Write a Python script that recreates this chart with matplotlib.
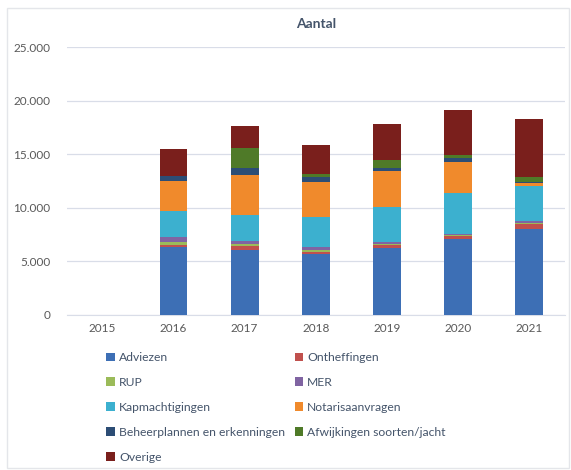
import numpy as np
import matplotlib
matplotlib.use('Agg')
import matplotlib.pyplot as plt
from matplotlib.patches import Rectangle

plt.rcParams['font.family'] = ['Lato', 'DejaVu Sans']

# data (aantal per jaar)
jaren = ['2015', '2016', '2017', '2018', '2019', '2020', '2021']
adviezen = [0, 6300, 6050, 5650, 6200, 7050, 8000]
ontheffingen = [0, 200, 350, 250, 300, 300, 450]
rup = [0, 300, 200, 150, 100, 100, 150]
mer = [0, 450, 300, 250, 200, 100, 200]
kapmachtigingen = [0, 2400, 2400, 2800, 3300, 3800, 3250]
notarisaanvragen = [0, 2850, 3800, 3300, 3350, 2950, 250]
beheerplannen = [0, 450, 650, 450, 300, 300, 100]
afwijkingen = [0, 50, 1850, 280, 700, 350, 450]
overige = [0, 2500, 2000, 2750, 3400, 4200, 5450]

reeksen = [
    ('Adviezen', adviezen, '#3d6fb5'),
    ('Ontheffingen', ontheffingen, '#c0504d'),
    ('RUP', rup, '#9bbb59'),
    ('MER', mer, '#8064a2'),
    ('Kapmachtigingen', kapmachtigingen, '#3cb0cf'),
    ('Notarisaanvragen', notarisaanvragen, '#f08a2c'),
    ('Beheerplannen en erkenningen', beheerplannen, '#2c4d75'),
    ('Afwijkingen soorten/jacht', afwijkingen, '#4f7a28'),
    ('Overige', overige, '#7a1f1c'),
]

tekst = '#595959'
fig = plt.figure(figsize=(5.71, 4.70), dpi=100)
ax = fig.add_axes([0.117, 0.330, 0.872, 0.570])

x = np.arange(len(jaren))
bodem = np.zeros(len(jaren))
handles = {}
for naam, waarden, kleur in reeksen:
    b = ax.bar(x, waarden, 0.39, bottom=bodem, color=kleur, label=naam, zorder=3)
    handles[naam] = b
    bodem += np.array(waarden)

ax.set_xlim(-0.5, 6.5)
ax.set_ylim(0, 25000)
ax.set_yticks(np.arange(0, 25001, 5000))
ax.set_yticklabels(['0', '5.000', '10.000', '15.000', '20.000', '25.000'])
ax.set_xticks(x)
ax.set_xticklabels(jaren)
ax.tick_params(length=0, labelsize=8.5, colors=tekst, pad=6)
ax.tick_params(axis='y', pad=12)
ax.grid(axis='y', color='#d9dde8', linewidth=0.9, zorder=0)
for s in ['top', 'right', 'left']:
    ax.spines[s].set_visible(False)
ax.spines['bottom'].set_color('#d9dde8')
ax.set_title('Aantal', fontsize=10, fontweight='bold', color='#44546a', pad=14)

# legend: row-wise order in two columns
links = ['Adviezen', 'RUP', 'Kapmachtigingen', 'Beheerplannen en erkenningen', 'Overige']
rechts = ['Ontheffingen', 'MER', 'Notarisaanvragen', 'Afwijkingen soorten/jacht']
volgorde = links + rechts
leg = fig.legend([handles[n] for n in volgorde], volgorde, ncol=2,
                 loc='upper left', bbox_to_anchor=(0.186, 0.251),
                 frameon=False, fontsize=8.7, handlelength=0.7, handleheight=0.7,
                 handletextpad=0.35, columnspacing=0.8, labelspacing=1.15,
                 borderaxespad=0, borderpad=0)
for t in leg.get_texts():
    t.set_color('#44546a')

# light frame around the chart
fig.patches.append(Rectangle((0.012, 0.004), 0.985, 0.98, transform=fig.transFigure,
                             fill=False, edgecolor='#e4e6ea', linewidth=1))

fig.savefig('out.png', dpi=100)
